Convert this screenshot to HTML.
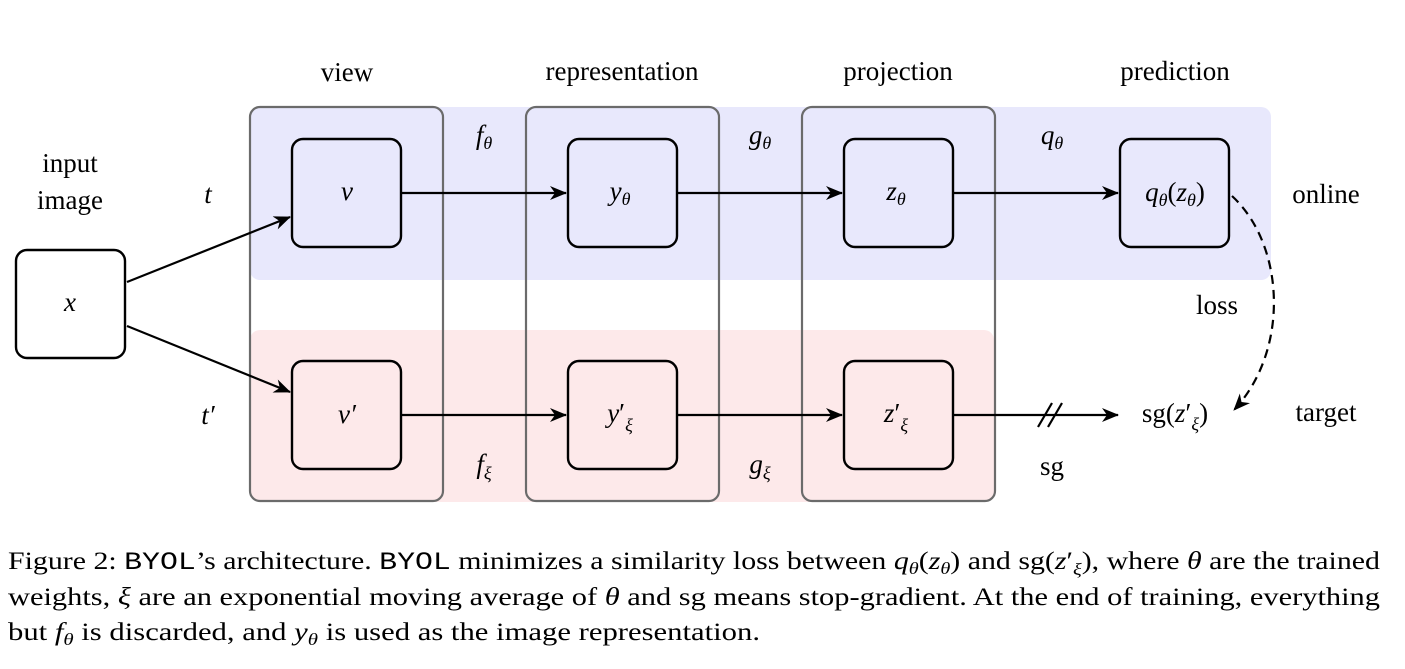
<!DOCTYPE html>
<html><head><meta charset="utf-8"><style>
html,body{margin:0;padding:0;background:#fff}
svg{display:block}
text{font-family:"Liberation Serif",serif;fill:#000}
.m{font-style:italic}
</style></head><body>
<svg width="1405" height="669" viewBox="0 0 1405 669" xmlns="http://www.w3.org/2000/svg">
<defs>
<marker id="ah" markerWidth="20" markerHeight="14" refX="16" refY="7" orient="auto" markerUnits="userSpaceOnUse">
<path d="M0,0 L17,7 L0,14 L5,7 Z" fill="#000"/>
</marker>
</defs>
<rect x="250" y="107" width="1021" height="173" rx="10" fill="#e8e8fc"/>
<rect x="250" y="330" width="744" height="172" rx="10" fill="#fde9ea"/>
<g fill="none" stroke="#6b6b6b" stroke-width="2.2">
<rect x="250" y="107" width="193" height="394" rx="10"/>
<rect x="526" y="107" width="193" height="394" rx="10"/>
<rect x="802" y="107" width="193" height="394" rx="10"/>
</g>
<g fill="none" stroke="#000" stroke-width="2.4">
<rect x="16" y="250" width="109" height="108" rx="11" fill="#fff"/>
<rect x="292" y="139" width="109" height="108" rx="11"/>
<rect x="568" y="139" width="109" height="108" rx="11"/>
<rect x="844" y="139" width="109" height="108" rx="11"/>
<rect x="1120" y="139" width="109" height="108" rx="11"/>
<rect x="292" y="361" width="109" height="108" rx="11"/>
<rect x="568" y="361" width="109" height="108" rx="11"/>
<rect x="844" y="361" width="109" height="108" rx="11"/>
</g>
<g stroke="#000" stroke-width="2.2" fill="none" marker-end="url(#ah)">
<line x1="127" y1="282" x2="290" y2="217"/>
<line x1="127" y1="326" x2="290" y2="392"/>
<line x1="402" y1="193" x2="566" y2="193"/>
<line x1="678" y1="193" x2="842" y2="193"/>
<line x1="954" y1="193" x2="1118" y2="193"/>
<line x1="402" y1="415" x2="566" y2="415"/>
<line x1="678" y1="415" x2="842" y2="415"/>
<line x1="954" y1="415" x2="1118" y2="415"/>
<path d="M1232,196 C1285,245 1290,350 1234,410" stroke-dasharray="9,6"/>
</g>
<g stroke="#000" stroke-width="2.2">
<line x1="1038" y1="427" x2="1052" y2="403"/>
<line x1="1048" y1="427" x2="1062" y2="403"/>
</g>
<g font-size="27" text-anchor="middle">
<text x="347" y="81">view</text>
<text x="622" y="80">representation</text>
<text x="898" y="80">projection</text>
<text x="1175" y="80">prediction</text>
<text x="70" y="172">input</text>
<text x="70" y="209">image</text>
<text x="1326" y="203">online</text>
<text x="1326" y="421">target</text>
<text x="1217" y="314">loss</text>
<text x="1052" y="475">sg</text>
<text x="1175" y="422">sg(<tspan class="m">z</tspan>′<tspan font-size="18" dy="8" class="m">ξ</tspan><tspan dy="-8">)</tspan></text>
<text class="m" x="70" y="311">x</text>
<text class="m" x="208" y="203">t</text>
<text class="m" x="208" y="424">t′</text>
<text class="m" x="347" y="200">v</text>
<text class="m" x="347" y="423">v′</text>
<text x="620" y="200"><tspan class="m">y</tspan><tspan class="m" font-size="18" dy="5">θ</tspan></text>
<text x="896" y="200"><tspan class="m">z</tspan><tspan class="m" font-size="18" dy="5">θ</tspan></text>
<text x="1175" y="201"><tspan class="m">q</tspan><tspan class="m" font-size="18" dy="5">θ</tspan><tspan dy="-5">(</tspan><tspan class="m">z</tspan><tspan class="m" font-size="18" dy="5">θ</tspan><tspan dy="-5">)</tspan></text>
<text x="620" y="422"><tspan class="m">y</tspan>′<tspan class="m" font-size="18" dy="9">ξ</tspan></text>
<text x="896" y="422"><tspan class="m">z</tspan>′<tspan class="m" font-size="18" dy="9">ξ</tspan></text>
<text x="484" y="144"><tspan class="m">f</tspan><tspan class="m" font-size="18" dy="5">θ</tspan></text>
<text x="760" y="144"><tspan class="m">g</tspan><tspan class="m" font-size="18" dy="5">θ</tspan></text>
<text x="1052" y="144"><tspan class="m">q</tspan><tspan class="m" font-size="18" dy="5">θ</tspan></text>
<text x="484" y="473"><tspan class="m">f</tspan><tspan class="m" font-size="18" dy="6">ξ</tspan></text>
<text x="760" y="473"><tspan class="m">g</tspan><tspan class="m" font-size="18" dy="6">ξ</tspan></text>
</g>
<g font-size="25">
<text x="8" y="569" textLength="1372" lengthAdjust="spacingAndGlyphs">Figure 2: <tspan font-family="Liberation Mono">BYOL</tspan>’s architecture. <tspan font-family="Liberation Mono">BYOL</tspan> minimizes a similarity loss between <tspan class="m">q</tspan><tspan class="m" font-size="17" dy="5">θ</tspan><tspan dy="-5">(</tspan><tspan class="m">z</tspan><tspan class="m" font-size="17" dy="5">θ</tspan><tspan dy="-5">) and sg(</tspan><tspan class="m">z</tspan>′<tspan class="m" font-size="17" dy="6">ξ</tspan><tspan dy="-6">), where </tspan><tspan class="m">θ</tspan> are the trained</text>
<text x="8" y="605" textLength="1372" lengthAdjust="spacingAndGlyphs">weights, <tspan class="m">ξ</tspan> are an exponential moving average of <tspan class="m">θ</tspan> and sg means stop-gradient. At the end of training, everything</text>
<text x="8" y="640" textLength="752" lengthAdjust="spacingAndGlyphs">but <tspan class="m">f</tspan><tspan class="m" font-size="17" dy="5">θ</tspan><tspan dy="-5"> is discarded, and </tspan><tspan class="m">y</tspan><tspan class="m" font-size="17" dy="5">θ</tspan><tspan dy="-5"> is used as the image representation.</tspan></text>
</g>
</svg>
</body></html>
